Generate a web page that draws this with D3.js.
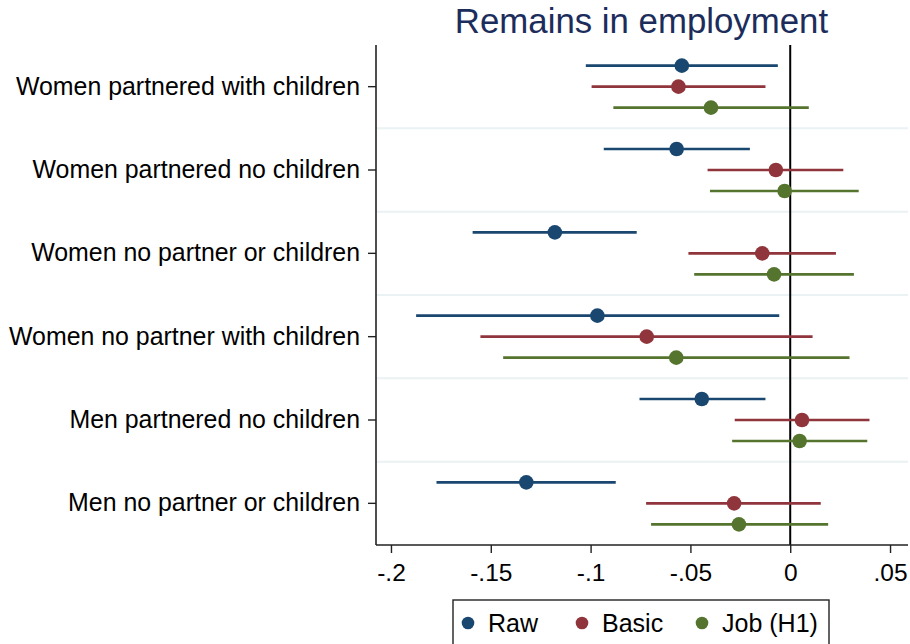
<!DOCTYPE html>
<html>
<head>
<meta charset="utf-8">
<script src="https://cdn.jsdelivr.net/npm/d3@7"></script>
<style>
  html, body { margin: 0; padding: 0; background: #fff; }
  svg { display: block; font-family: "Liberation Sans", Arial, sans-serif; }
</style>
</head>
<body>
<svg id="chart" width="910" height="644"></svg>
<script>
// Groups, top to bottom
const categories = [
  "Women partnered with children",
  "Women partnered no children",
  "Women no partner or children",
  "Women no partner with children",
  "Men partnered no children",
  "Men no partner or children"
];

// Model specifications
const seriesNames = ["Raw", "Basic", "Job (H1)"];
const seriesColors = ["#1a476f", "#90353b", "#55752f"];

// Point estimates per group (Raw, Basic, Job)
const rawEst   = [-0.0543, -0.0569, -0.1179, -0.0966, -0.0443, -0.1322];
const basicEst = [-0.0560, -0.0072, -0.0140, -0.0719,  0.0059, -0.0281];
const jobEst   = [-0.0397, -0.0028, -0.0081, -0.0571,  0.0047, -0.0257];

// 95% confidence bounds
const rawLo   = [-0.1024, -0.0934, -0.1591, -0.1874, -0.0755, -0.1772];
const rawHi   = [-0.0062, -0.0202, -0.0769, -0.0055, -0.0124, -0.0874];
const basicLo = [-0.0995, -0.0414, -0.0510, -0.1552, -0.0278, -0.0722];
const basicHi = [-0.0124,  0.0266,  0.0229,  0.0112,  0.0397,  0.0153];
const jobLo   = [-0.0886, -0.0402, -0.0481, -0.1438, -0.0291, -0.0697];
const jobHi   = [ 0.0093,  0.0343,  0.0319,  0.0297,  0.0386,  0.0190];

const xTicks = [-0.2, -0.15, -0.1, -0.05, 0, 0.05];
const xTickLabels = ["-.2", "-.15", "-.1", "-.05", "0", ".05"];
const title = "Remains in employment";

const est = [rawEst, basicEst, jobEst];
const lo = [rawLo, basicLo, jobLo];
const hi = [rawHi, basicHi, jobHi];

const rows = [];
categories.forEach((c, i) => {
  seriesNames.forEach((s, j) => {
    rows.push({ cat: c, series: s, color: seriesColors[j],
                est: est[j][i], lo: lo[j][i], hi: hi[j][i] });
  });
});

const svg = d3.select("#chart");
const plot = { left: 376, right: 908, top: 45, bottom: 545 };

const x = d3.scaleLinear().domain([-0.2075, 0.059]).range([plot.left, plot.right]);
const y = d3.scaleBand().domain(categories).range([plot.top, plot.bottom]).padding(0);
const sub = d3.scalePoint().domain(seriesNames).range([-21, 21]);
const yc = d => y(d.cat) + y.bandwidth() / 2 + sub(d.series);

// Separators between groups
svg.append("g")
  .selectAll("line")
  .data(categories.slice(1))
  .join("line")
  .attr("x1", plot.left).attr("x2", plot.right)
  .attr("y1", d => y(d)).attr("y2", d => y(d))
  .attr("stroke", "#eaf2f3").attr("stroke-width", 2);

// Reference line at zero
svg.append("line")
  .attr("x1", x(0)).attr("x2", x(0))
  .attr("y1", plot.top).attr("y2", plot.bottom)
  .attr("stroke", "#000").attr("stroke-width", 2);

// Confidence intervals
svg.append("g")
  .selectAll("line")
  .data(rows)
  .join("line")
  .attr("x1", d => x(d.lo)).attr("x2", d => x(d.hi))
  .attr("y1", yc).attr("y2", yc)
  .attr("stroke", d => d.color).attr("stroke-width", 2.6);

// Point estimates
svg.append("g")
  .selectAll("circle")
  .data(rows)
  .join("circle")
  .attr("cx", d => x(d.est)).attr("cy", yc)
  .attr("r", 7.3)
  .attr("fill", d => d.color);

// X axis
const xAxis = d3.axisBottom(x)
  .tickValues(xTicks)
  .tickFormat((d, i) => xTickLabels[i])
  .tickSize(8).tickPadding(11).tickSizeOuter(0);
const gx = svg.append("g")
  .attr("transform", `translate(0,${plot.bottom})`)
  .call(xAxis);
gx.select(".domain").attr("stroke", "#222").attr("stroke-width", 1.6)
  .attr("d", `M${plot.left},0H${plot.right}`);
gx.selectAll(".tick line").attr("stroke", "#222").attr("stroke-width", 1.4);
gx.selectAll(".tick text").attr("fill", "#000")
  .style("font-size", "24.5px").style("font-family", "'Liberation Sans', Arial, sans-serif");

// Y axis
const yAxis = d3.axisLeft(y).tickSize(8).tickPadding(8).tickSizeOuter(0);
const gy = svg.append("g")
  .attr("transform", `translate(${plot.left},0)`)
  .call(yAxis);
gy.select(".domain").attr("stroke", "#222").attr("stroke-width", 1.6)
  .attr("d", `M0,${plot.top}V${plot.bottom}`);
gy.selectAll(".tick line").attr("stroke", "#222").attr("stroke-width", 1.4);
gy.selectAll(".tick text").attr("fill", "#000")
  .style("font-size", "24.9px").style("font-family", "'Liberation Sans', Arial, sans-serif");

// Title
svg.append("text")
  .attr("x", 641.5).attr("y", 33)
  .attr("text-anchor", "middle")
  .attr("fill", "#1c2d5c")
  .style("font-size", "34.8px")
  .text(title);

// Legend
const legend = svg.append("g");
legend.append("rect")
  .attr("x", 453).attr("y", 600).attr("width", 376).attr("height", 50)
  .attr("fill", "#fff").attr("stroke", "#222").attr("stroke-width", 1.4);
const legendX = [468, 582, 702];
const items = legend.selectAll("g.item")
  .data(seriesNames)
  .join("g").attr("class", "item")
  .attr("transform", (d, i) => `translate(${legendX[i]},623)`);
items.append("circle").attr("r", 6.3).attr("fill", (d, i) => seriesColors[i]);
items.append("text")
  .attr("x", 20).attr("dy", "0.35em")
  .attr("fill", "#000")
  .style("font-size", "25px")
  .text(d => d);
</script>
</body>
</html>
